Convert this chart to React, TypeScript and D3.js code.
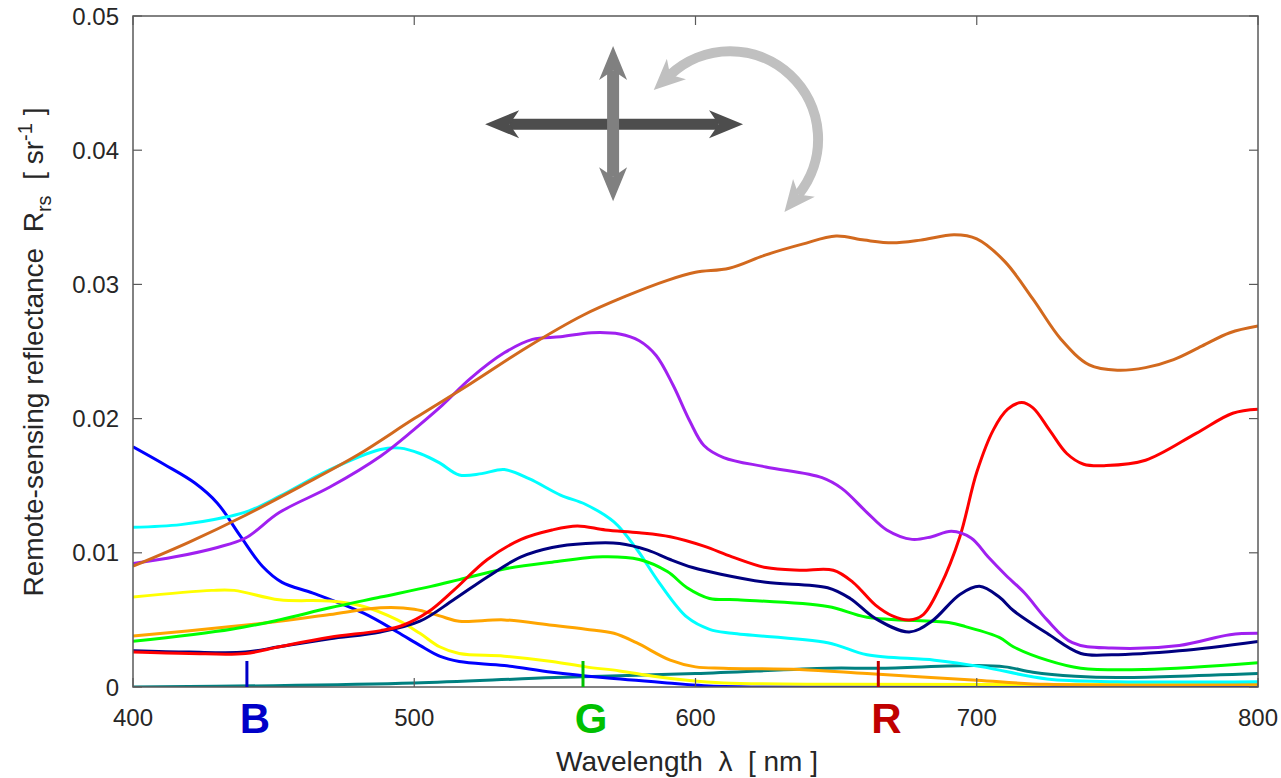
import React from "react";
import * as d3 from "d3";

type P = [number, number];

const xTicks = [400, 500, 600, 700, 800];
const yTicks = [0, 0.01, 0.02, 0.03, 0.04, 0.05];
const yTickLabels = ["0", "0.01", "0.02", "0.03", "0.04", "0.05"];

const teal: P[] = [[400,0.0000],[450,0.0001],[500,0.0003],[550,0.0007],[600,0.0010],[647,0.0014],[665,0.0014],[700,0.0016],[710,0.0015],[720,0.0011],[735,0.0008],[750,0.0007],[800,0.0010]];
const blue: P[] = [[400,0.0179],[411,0.0166],[422,0.0152],[430,0.0137],[438,0.0113],[446,0.0090],[453,0.0078],[464,0.0070],[482,0.0055],[494,0.0041],[502,0.0031],[509,0.0023],[516,0.0019],[532,0.0016],[549,0.0011],[567,0.0007],[590,0.0003],[603,0.0001],[620,0.0000],[700,0.0000],[800,0.0000]];
const yellow: P[] = [[400,0.0067],[428,0.0072],[436,0.0072],[452,0.0065],[470,0.0064],[482,0.0060],[494,0.0050],[502,0.0040],[509,0.0030],[516,0.0025],[532,0.0023],[549,0.0019],[561,0.0015],[573,0.0012],[585,0.0008],[597,0.0005],[610,0.0003],[650,0.0002],[800,0.0002]];
const orange: P[] = [[400,0.0038],[435,0.0045],[452,0.0049],[470,0.0054],[488,0.0059],[500,0.0058],[509,0.0053],[516,0.0049],[532,0.0050],[549,0.0046],[561,0.0043],[571,0.0040],[579,0.0033],[591,0.0020],[600,0.0015],[610,0.0014],[637,0.0013],[661,0.0010],[700,0.0005],[725,0.0002],[800,0.0002]];
const cyan: P[] = [[400,0.0119],[417,0.0121],[434,0.0127],[441,0.0131],[452,0.0142],[470,0.0162],[488,0.0177],[495,0.0178],[502,0.0174],[509,0.0167],[516,0.0158],[524,0.0159],[532,0.0162],[541,0.0155],[552,0.0143],[561,0.0136],[571,0.0123],[579,0.0103],[587,0.0078],[597,0.0052],[605,0.0043],[613,0.0040],[647,0.0033],[661,0.0024],[685,0.0020],[702,0.0015],[725,0.0006],[750,0.0004],[800,0.0004]];
const green: P[] = [[400,0.0034],[435,0.0043],[452,0.0050],[470,0.0059],[488,0.0067],[506,0.0075],[516,0.0080],[532,0.0088],[549,0.0093],[567,0.0097],[580,0.0095],[590,0.0086],[597,0.0074],[605,0.0066],[615,0.0065],[647,0.0060],[661,0.0052],[690,0.0048],[696,0.0045],[708,0.0037],[713,0.0030],[725,0.0020],[737,0.0014],[760,0.0013],[800,0.0018]];
const navy: P[] = [[400,0.0027],[420,0.0026],[440,0.0026],[452,0.0030],[470,0.0036],[488,0.0041],[502,0.0049],[514,0.0065],[526,0.0082],[538,0.0097],[549,0.0104],[561,0.0107],[573,0.0107],[583,0.0102],[591,0.0095],[599,0.0089],[609,0.0084],[625,0.0078],[647,0.0074],[655,0.0066],[664,0.0051],[676,0.0041],[684,0.0049],[694,0.0069],[701,0.0075],[708,0.0067],[713,0.0057],[725,0.0040],[737,0.0025],[748,0.0024],[772,0.0027],[800,0.0034]];
const red: P[] = [[400,0.0026],[420,0.0025],[440,0.0025],[452,0.0030],[470,0.0037],[488,0.0042],[496,0.0046],[505,0.0056],[514,0.0072],[526,0.0095],[538,0.0110],[549,0.0117],[558,0.0120],[568,0.0117],[580,0.0115],[591,0.0112],[603,0.0105],[613,0.0097],[625,0.0089],[637,0.0087],[649,0.0087],[656,0.0078],[664,0.0061],[670,0.0053],[676,0.0050],[681,0.0054],[687,0.0075],[694,0.0112],[700,0.0160],[706,0.0192],[711,0.0207],[716,0.0212],[720,0.0208],[726,0.0191],[732,0.0174],[738,0.0166],[746,0.0165],[760,0.0169],[778,0.0189],[791,0.0204],[800,0.0207]];
const purple: P[] = [[400,0.0092],[415,0.0097],[430,0.0104],[440,0.0111],[452,0.0130],[470,0.0149],[488,0.0172],[500,0.0192],[510,0.0210],[520,0.0230],[532,0.0249],[542,0.0259],[552,0.0261],[563,0.0264],[573,0.0263],[580,0.0258],[586,0.0247],[592,0.0225],[598,0.0198],[603,0.0180],[610,0.0171],[625,0.0164],[645,0.0156],[652,0.0148],[661,0.0130],[668,0.0117],[677,0.0110],[684,0.0112],[691,0.0116],[698,0.0111],[704,0.0097],[710,0.0084],[717,0.0070],[725,0.0050],[734,0.0033],[748,0.0029],[772,0.0031],[790,0.0039],[800,0.0040]];
const brown: P[] = [[400,0.0090],[420,0.0108],[440,0.0128],[460,0.0150],[480,0.0173],[500,0.0200],[520,0.0226],[540,0.0253],[560,0.0277],[575,0.0291],[590,0.0303],[600,0.0309],[612,0.0312],[625,0.0322],[638,0.0330],[650,0.0336],[660,0.0333],[670,0.0331],[680,0.0333],[692,0.0337],[700,0.0334],[710,0.0317],[720,0.0289],[730,0.0259],[740,0.0240],[750,0.0236],[760,0.0238],[770,0.0244],[780,0.0254],[790,0.0264],[800,0.0269]];

const seriesList: { data: P[]; color: string }[] = [
  { data: teal, color: "#008080" },
  { data: blue, color: "#0000ff" },
  { data: yellow, color: "#ffff00" },
  { data: orange, color: "#ffa500" },
  { data: cyan, color: "#00ffff" },
  { data: green, color: "#00ff00" },
  { data: navy, color: "#000080" },
  { data: red, color: "#ff0000" },
  { data: purple, color: "#a020f0" },
  { data: brown, color: "#d2691e" },
];

const bandNames = ["B", "G", "R"];
const bandWavelengths = [440.5, 560, 665];
const bandColors = ["#0000c8", "#00c000", "#c00000"];

const W = 1281;
const H = 778;
const FONT = "'Liberation Sans', Arial, Helvetica, sans-serif";

function headPoints(tx: number, ty: number, ang: number, L: number, Wd: number) {
  const dx = Math.cos(ang), dy = Math.sin(ang);
  const px = -dy, py = dx;
  const bx = tx - L * dx, by = ty - L * dy;
  const nx = tx - 0.72 * L * dx, ny = ty - 0.72 * L * dy;
  return [
    [tx, ty],
    [bx + (Wd / 2) * px, by + (Wd / 2) * py],
    [nx, ny],
    [bx - (Wd / 2) * px, by - (Wd / 2) * py],
  ].map((p) => p.join(",")).join(" ");
}

export default function App() {
  const x = d3.scaleLinear().domain([400, 800]).range([133, 1258]);
  const y = d3.scaleLinear().domain([0, 0.05]).range([687, 16]);
  const line = d3
    .line<P>()
    .x((d) => x(d[0]))
    .y((d) => y(d[1]))
    .curve(d3.curveCatmullRom.alpha(0.5));

  const x0 = x.range()[0], x1 = x.range()[1];
  const y0 = y.range()[0], y1 = y.range()[1];
  const tickLen = 9;
  const axisColor = "#5a5a5a";
  const textColor = "#262626";

  // annotation arrows (in data space)
  const hArrow = { a: x(525.2), b: x(616.9), yy: y(0.04194) };
  const vArrow = { xx: x(570.7), a: y(0.04776), b: y(0.03619) };
  const arcC = { cx: x(612.3), cy: y(0.04082), r: 88 };
  const th1 = (-133 * Math.PI) / 180;
  const th2 = (39 * Math.PI) / 180;
  const arcPath = d3.path();
  arcPath.arc(arcC.cx, arcC.cy, arcC.r, th1, th2, false);
  const sP = [arcC.cx + arcC.r * Math.cos(th1), arcC.cy + arcC.r * Math.sin(th1)];
  const eP = [arcC.cx + arcC.r * Math.cos(th2), arcC.cy + arcC.r * Math.sin(th2)];
  const sAng = Math.atan2(-Math.cos(th1), Math.sin(th1));
  const eAng = Math.atan2(Math.cos(th2), -Math.sin(th2));
  const aL = 31, aW = 28;
  const sTip = [sP[0] + 0.72 * aL * Math.cos(sAng), sP[1] + 0.72 * aL * Math.sin(sAng)];
  const eTip = [eP[0] + 0.72 * aL * Math.cos(eAng), eP[1] + 0.72 * aL * Math.sin(eAng)];

  const hL = 34, hW = 28;

  return (
    <svg
      width={W}
      height={H}
      viewBox={`0 0 ${W} ${H}`}
      style={{ position: "absolute", left: 0, top: 0, background: "#fff" }}
      fontFamily={FONT}
    >
      <rect x={0} y={0} width={W} height={H} fill="#ffffff" />
      <defs>
        <clipPath id="plotclip">
          <rect x={x0} y={y1} width={x1 - x0} height={y0 - y1} />
        </clipPath>
      </defs>

      {/* series */}
      <g clipPath="url(#plotclip)">
        {seriesList.map((s, i) => (
          <path key={i} d={line(s.data) || ""} fill="none" stroke={s.color} strokeWidth={3} strokeLinejoin="round" />
        ))}
      </g>

      {/* axes box */}
      <rect x={x0} y={y1} width={x1 - x0} height={y0 - y1} fill="none" stroke={axisColor} strokeWidth={1.5} />
      {yTicks.map((t, i) => (
        <g key={"yt" + i}>
          <line x1={x0} x2={x0 + tickLen} y1={y(t)} y2={y(t)} stroke={axisColor} strokeWidth={1.2} />
          <line x1={x1} x2={x1 - tickLen} y1={y(t)} y2={y(t)} stroke={axisColor} strokeWidth={1.2} />
          <text x={x0 - 14} y={y(t)} dy="0.36em" textAnchor="end" fontSize={24} fill={textColor}>
            {yTickLabels[i]}
          </text>
        </g>
      ))}
      {xTicks.map((t, i) => (
        <g key={"xt" + i}>
          <line x1={x(t)} x2={x(t)} y1={y0} y2={y0 - tickLen} stroke={axisColor} strokeWidth={1.2} />
          <line x1={x(t)} x2={x(t)} y1={y1} y2={y1 + tickLen} stroke={axisColor} strokeWidth={1.2} />
          <text x={x(t)} y={726} textAnchor="middle" fontSize={24} fill={textColor}>
            {t}
          </text>
        </g>
      ))}

      {/* band markers */}
      {bandNames.map((b, i) => (
        <g key={"band" + i}>
          <line x1={x(bandWavelengths[i])} x2={x(bandWavelengths[i])} y1={y0} y2={y0 - 26} stroke={bandColors[i]} strokeWidth={3} />
          <text x={x(bandWavelengths[i]) + 8} y={733} textAnchor="middle" fontSize={42} fontWeight="bold" fill={bandColors[i]}>
            {b}
          </text>
        </g>
      ))}

      {/* axis labels */}
      <text x={687} y={771} textAnchor="middle" fontSize={28} fill={textColor} style={{ whiteSpace: "pre" }}>
        {"Wavelength  λ  [ nm ]"}
      </text>
      <text transform="translate(43,352) rotate(-90)" textAnchor="middle" fontSize={28} fill={textColor} style={{ whiteSpace: "pre" }}>
        <tspan>{"Remote-sensing reflectance  R"}</tspan>
        <tspan dy={8} fontSize={20}>rs</tspan>
        <tspan dy={-8}>{"  [ sr"}</tspan>
        <tspan dy={-11} fontSize={20}>-1</tspan>
        <tspan dy={11}>{" ]"}</tspan>
      </text>

      {/* annotation arrows */}
      <g>
        <line x1={hArrow.a + 0.72 * hL} x2={hArrow.b - 0.72 * hL} y1={hArrow.yy} y2={hArrow.yy} stroke="#4d4d4d" strokeWidth={11} />
        <polygon points={headPoints(hArrow.a, hArrow.yy, Math.PI, hL, hW)} fill="#4d4d4d" />
        <polygon points={headPoints(hArrow.b, hArrow.yy, 0, hL, hW)} fill="#4d4d4d" />

        <line x1={vArrow.xx} x2={vArrow.xx} y1={vArrow.a + 0.72 * hL} y2={vArrow.b - 0.72 * hL} stroke="#808080" strokeWidth={12} />
        <polygon points={headPoints(vArrow.xx, vArrow.a, -Math.PI / 2, hL, hW)} fill="#808080" />
        <polygon points={headPoints(vArrow.xx, vArrow.b, Math.PI / 2, hL, hW)} fill="#808080" />

        <path d={arcPath.toString()} fill="none" stroke="#c0c0c0" strokeWidth={10} />
        <polygon points={headPoints(sTip[0], sTip[1], sAng, aL, aW)} fill="#c0c0c0" />
        <polygon points={headPoints(eTip[0], eTip[1], eAng, aL, aW)} fill="#c0c0c0" />
      </g>
    </svg>
  );
}
